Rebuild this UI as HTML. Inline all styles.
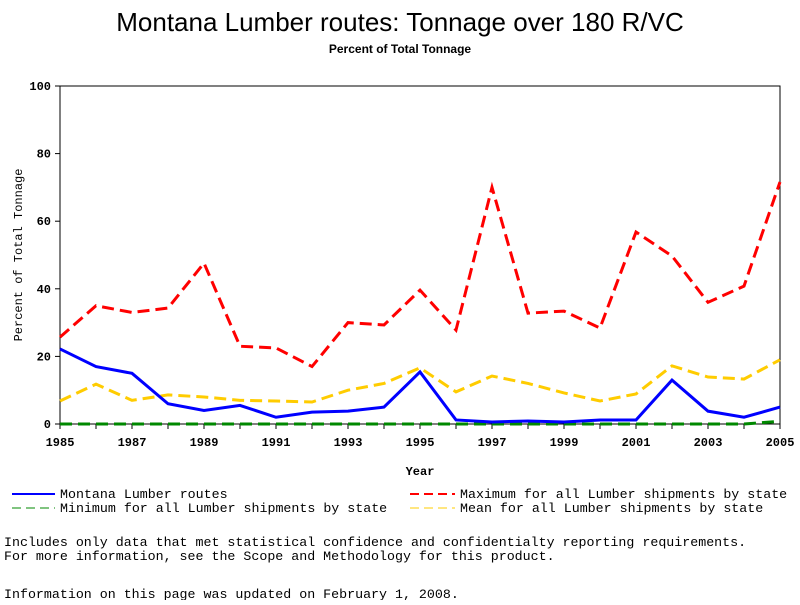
<!DOCTYPE html>
<html><head><meta charset="utf-8"><style>
body{margin:0;background:#fff;width:800px;height:600px;overflow:hidden}
svg text{font-family:"Liberation Mono",monospace;fill:#000}
</style></head><body>
<svg width="800" height="600" xmlns="http://www.w3.org/2000/svg">
<text x="400" y="31" text-anchor="middle" style="font-family:'Liberation Sans',sans-serif;font-size:26px">Montana Lumber routes: Tonnage over 180 R/VC</text>
<text x="400" y="53" text-anchor="middle" style="font-family:'Liberation Sans',sans-serif;font-size:12px;font-weight:bold">Percent of Total Tonnage</text>
<rect x="60" y="86" width="720" height="338" fill="none" stroke="#000"/>
<g id="axes"></g>
<g id="series"></g>
<text x="420" y="475" text-anchor="middle" font-size="12" font-weight="bold">Year</text>
<text transform="translate(22,255) rotate(-90)" text-anchor="middle" font-size="12">Percent of Total Tonnage</text>
<g>
<line x1="12" y1="494" x2="55" y2="494" stroke="#00f" stroke-width="2"/><text x="60" y="498" font-size="13.3">Montana Lumber routes</text>
<line x1="12" y1="508" x2="55" y2="508" stroke="#080" stroke-width="1" stroke-dasharray="9,5"/><text x="60" y="512" font-size="13.3">Minimum for all Lumber shipments by state</text>
<line x1="410" y1="494" x2="455" y2="494" stroke="#f00" stroke-width="2" stroke-dasharray="9,5"/><text x="460" y="498" font-size="13.3">Maximum for all Lumber shipments by state</text>
<line x1="410" y1="508" x2="455" y2="508" stroke="#fc0" stroke-width="1" stroke-dasharray="9,5"/><text x="460" y="512" font-size="13.3">Mean for all Lumber shipments by state</text>
</g>
<text x="4" y="546" font-size="13.3">Includes only data that met statistical confidence and confidentialty reporting requirements.</text>
<text x="4" y="560" font-size="13.3">For more information, see the Scope and Methodology for this product.</text>
<text x="4" y="598" font-size="13.3">Information on this page was updated on February 1, 2008.</text>
</svg>
<script>
const years=[1985,1986,1987,1988,1989,1990,1991,1992,1993,1994,1995,1996,1997,1998,1999,2000,2001,2002,2003,2004,2005];
const montana=[22.2,17,15,6,4,5.5,2,3.5,3.8,5,15.4,1.2,0.6,0.9,0.6,1.2,1.2,13,3.8,2,5];
const maximum=[25.7,35,33,34.3,47.6,23,22.5,17,30,29.3,39.6,27.8,70,32.8,33.4,28.4,56.8,49.7,36,40.8,71.6];
const mean=[6.8,11.8,7,8.6,8,7,6.8,6.5,10,12,16.6,9.5,14.2,12,9.2,6.8,8.9,17.2,13.9,13.3,19];
const minimum=[0,0,0,0,0,0,0,0,0,0,0,0,0,0,0,0,0,0,0,0,0.8];
const yTicks=[0,20,40,60,80,100];
const xTickYears=[1985,1987,1989,1991,1993,1995,1997,1999,2001,2003,2005];
const NS='http://www.w3.org/2000/svg';
const xs=y=>60+(y-1985)*36;
const ys=v=>424-v*3.38;
const ax=document.getElementById('axes');
function mk(t,a,p){const e=document.createElementNS(NS,t);for(const k in a)e.setAttribute(k,a[k]);p.appendChild(e);return e;}
yTicks.forEach(v=>{
 mk('line',{x1:55,x2:60,y1:ys(v),y2:ys(v),stroke:'#000'},ax);
 const t=mk('text',{x:51,y:ys(v)+4,'text-anchor':'end','font-size':12,'font-weight':'bold'},ax);t.textContent=v;
 
 
});
years.forEach(y=>mk('line',{x1:xs(y),x2:xs(y),y1:424,y2:429,stroke:'#000'},ax));
xTickYears.forEach(y=>{
 const t=mk('text',{x:xs(y),y:446,'text-anchor':'middle','font-size':12,'font-weight':'bold'},ax);t.textContent=y;
 
 
});
const sg=document.getElementById('series');
function line(vals,color,dash,w,name){
 const p=mk('polyline',{points:vals.map((v,i)=>xs(years[i])+','+ys(v)).join(' '),fill:'none',stroke:color,'stroke-width':w,'stroke-dasharray':dash},sg);
 
 
}
line(mean,'#fc0','12,6',3,'mean-line');
line(maximum,'#f00','12,6',3,'maximum-line');
line(minimum,'#080','12,6',3,'minimum-line');
line(montana,'#00f','none',3,'montana-line');
</script>
</body></html>
